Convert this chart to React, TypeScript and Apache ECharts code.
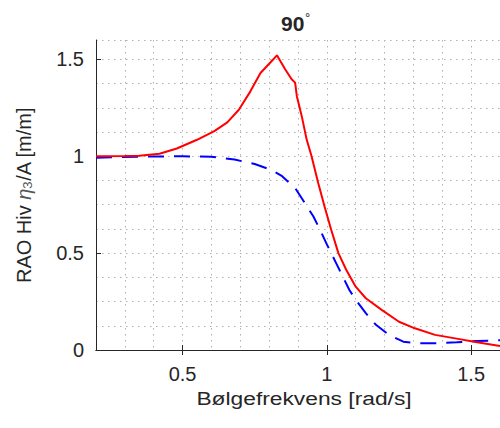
import React, { useEffect, useRef } from "react";
import * as echarts from "echarts";

const FONT = "'Liberation Sans', Arial, Helvetica, sans-serif";
const INK = "#262626";
const GRID_DOTS = "#b0b0b0";

// Wave heading shown in the title (degrees)
const heading = "90";
const xAxisTitle = "Bølgefrekvens [rad/s]";

// Major tick positions
const xTicks = [0.5, 1, 1.5];
const yTicks = [0, 0.5, 1, 1.5];

// Heave RAO, solid red curve
const redFreq = [
  0.2, 0.3, 0.35, 0.42, 0.48, 0.55, 0.61, 0.655, 0.695, 0.735, 0.77, 0.805,
  0.827, 0.855, 0.878, 0.89, 0.896, 0.913, 0.93, 0.947, 0.97, 0.992, 1.015,
  1.04, 1.067, 1.1, 1.135, 1.19, 1.25, 1.305, 1.375, 1.445, 1.51, 1.6,
];
const redRao = [
  1.0, 1.001, 1.003, 1.013, 1.04, 1.085, 1.13, 1.175, 1.24, 1.335, 1.43, 1.485,
  1.521, 1.45, 1.397, 1.38, 1.31, 1.207, 1.086, 1.0, 0.862, 0.741, 0.621, 0.5,
  0.414, 0.327, 0.267, 0.207, 0.146, 0.112, 0.078, 0.06, 0.043, 0.02,
];

// Heave RAO, dashed blue curve
const blueFreq = [
  0.2, 0.35, 0.5, 0.6, 0.68, 0.75, 0.805, 0.845, 0.89, 0.918, 0.953, 0.975,
  1.0, 1.03, 1.078, 1.1, 1.135, 1.17, 1.215, 1.265, 1.316, 1.375, 1.45, 1.52,
  1.6,
];
const blueRao = [
  0.992, 0.998, 1.0, 0.997, 0.983, 0.96, 0.931, 0.897, 0.836, 0.772, 0.69,
  0.625, 0.545, 0.455, 0.31, 0.259, 0.19, 0.13, 0.078, 0.043, 0.035, 0.035,
  0.04, 0.046, 0.05,
];

const pairs = (xs: number[], ys: number[]) => xs.map((x, i) => [x, ys[i]]);

const X_MIN = 0.2;
const X_MAX = 1.6;
const Y_MIN = 0;
const Y_MAX = 1.6;

const dotted = {
  show: true,
  lineStyle: { color: GRID_DOTS, width: 1, type: [1.5, 4.5] as number[] },
};

const hiddenParts = {
  axisLine: { show: false },
  axisTick: { show: false },
  axisLabel: { show: false },
};

export default function App() {
  const ref = useRef<HTMLDivElement>(null);

  useEffect(() => {
    if (!ref.current) return;
    const chart = echarts.init(ref.current, null, { renderer: "svg" });

    chart.setOption({
      animation: false,
      backgroundColor: "#ffffff",
      title: {
        text: `{a|${heading}}{b|°}`,
        left: 281,
        top: 12,
        padding: 0,
        textStyle: {
          rich: {
            a: { fontFamily: FONT, fontSize: 21, fontWeight: "bold", color: INK },
            b: { fontFamily: FONT, fontSize: 12, color: "#555", padding: [0, 0, 10, 1] },
          },
        },
      },
      grid: { left: 96, top: 40, width: 409.2, height: 310 },
      xAxis: [
        {
          type: "value",
          position: "bottom",
          min: X_MIN,
          max: X_MAX,
          axisLine: { show: true, lineStyle: { color: INK, width: 1 } },
          axisTick: {
            show: true,
            inside: true,
            length: 5,
            customValues: xTicks,
            lineStyle: { color: INK, width: 1 },
          },
          axisLabel: {
            customValues: xTicks,
            margin: 14,
            color: INK,
            fontSize: 20,
            fontFamily: FONT,
          },
          splitLine: { show: false },
        },
        {
          type: "value",
          position: "top",
          min: X_MIN,
          max: X_MAX,
          axisLine: { show: true, lineStyle: { color: INK, width: 1 } },
          axisTick: {
            show: true,
            inside: true,
            length: 5,
            customValues: xTicks,
            lineStyle: { color: INK, width: 1 },
          },
          axisLabel: { show: false },
          splitLine: { show: false },
        },
        {
          type: "value",
          min: X_MIN,
          max: X_MAX,
          interval: 0.1,
          ...hiddenParts,
          splitLine: dotted,
        },
      ],
      yAxis: [
        {
          type: "value",
          position: "left",
          min: Y_MIN,
          max: Y_MAX,
          axisLine: { show: true, lineStyle: { color: INK, width: 1 } },
          axisTick: {
            show: true,
            inside: true,
            length: 5,
            customValues: yTicks,
            lineStyle: { color: INK, width: 1 },
          },
          axisLabel: {
            customValues: yTicks,
            margin: 12,
            color: INK,
            fontSize: 20,
            fontFamily: FONT,
          },
          splitLine: { show: false },
          name: "{n|RAO Hiv }{i|η}{s|3}{n|/A [m/m]}",
          nameLocation: "middle",
          nameRotate: 90,
          nameGap: 62,
          nameTextStyle: {
            rich: {
              n: { fontFamily: FONT, fontSize: 20, color: INK },
              i: { fontFamily: FONT, fontSize: 20, fontStyle: "italic", color: "#555" },
              s: { fontFamily: FONT, fontSize: 13, color: "#555", padding: [8, 0, 0, 0] },
            },
          },
        },
        {
          type: "value",
          position: "right",
          min: Y_MIN,
          max: Y_MAX,
          interval: 0.125,
          ...hiddenParts,
          splitLine: dotted,
        },
      ],
      graphic: [
        {
          type: "text",
          x: 304,
          y: 398,
          scaleX: 1.2,
          style: {
            text: xAxisTitle,
            x: 0,
            y: 0,
            align: "center",
            verticalAlign: "middle",
            fontFamily: FONT,
            fontSize: 19,
            fill: INK,
          },
        },
      ],
      series: [
        {
          type: "line",
          xAxisIndex: 0,
          yAxisIndex: 0,
          data: pairs(blueFreq, blueRao),
          symbol: "none",
          lineStyle: { color: "#0000ff", width: 2, type: [16, 10] },
          z: 2,
        },
        {
          type: "line",
          xAxisIndex: 0,
          yAxisIndex: 0,
          data: pairs(redFreq, redRao),
          symbol: "none",
          lineStyle: { color: "#ff0000", width: 2 },
          z: 3,
        },
      ],
    });

    return () => chart.dispose();
  }, []);

  return (
    <div
      ref={ref}
      style={{ position: "fixed", left: 0, top: 0, width: 500, height: 428 }}
    />
  );
}
